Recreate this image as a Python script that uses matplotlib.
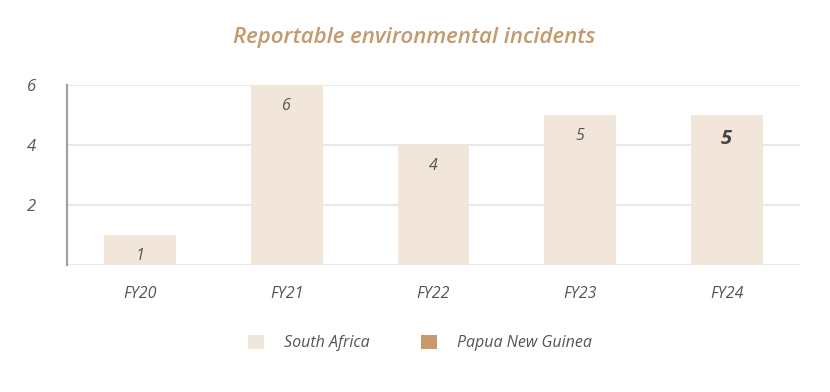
import matplotlib
matplotlib.use("Agg")
import matplotlib.pyplot as plt
from matplotlib.patches import Patch

categories = ["FY20", "FY21", "FY22", "FY23", "FY24"]
south_africa = [1, 6, 4, 5, 5]
yticks = [2, 4, 6]
series_names = ["South Africa", "Papua New Guinea"]

SA_COLOR = "#F2E6DA"
PNG_COLOR = "#C8996A"
TITLE_COLOR = "#C49A6C"
TEXT_COLOR = "#555555"
FONT = "Open Sans"

fig = plt.figure(figsize=(8.3, 3.92), dpi=100)
ax = fig.add_axes([67/830, 127/392, 733/830, 180/392])

x = list(range(len(categories)))
ax.bar(x, south_africa, width=0.49, color=SA_COLOR, zorder=2)

ax.set_xlim(-0.5, len(categories) - 0.5)
ax.set_ylim(0, 6)
ax.set_yticks(yticks)
ax.set_yticklabels([str(v) for v in yticks], fontfamily=FONT, fontstyle="italic",
                   fontsize=12, color=TEXT_COLOR)
ax.set_xticks(x)
ax.set_xticklabels(categories, fontfamily=FONT, fontstyle="italic",
                   fontsize=11.5, color=TEXT_COLOR)
ax.tick_params(axis="y", length=0, pad=22)
ax.tick_params(axis="x", length=0, pad=15)

for yv in [0] + yticks:
    ax.axhline(yv, color="#E8E8E8", lw=1.5, zorder=1)

for s in ["top", "right", "bottom"]:
    ax.spines[s].set_visible(False)
ax.spines["left"].set_color("#A0A0A0")
ax.spines["left"].set_linewidth(1.6)

for i, v in enumerate(south_africa):
    last = i == len(south_africa) - 1
    ax.annotate(str(v), (i, v), xytext=(0, -21 if not last else -24), textcoords="offset pixels",
                ha="center", va="center", fontfamily=FONT, fontstyle="italic",
                fontsize=14.5 if last else 11.5, fontweight="bold" if last else "normal",
                color="#444444" if last else TEXT_COLOR, zorder=3)

fig.text(414/830, 1 - 37/392, "Reportable environmental incidents", ha="center", va="center",
         fontfamily=FONT, fontstyle="italic", fontweight="semibold", fontsize=16, color=TITLE_COLOR)

handles = [Patch(facecolor=SA_COLOR, edgecolor="none"), Patch(facecolor=PNG_COLOR, edgecolor="none")]
leg = fig.legend(handles, series_names, loc="center", bbox_to_anchor=(420/830, 1 - 343/392),
                 ncol=2, frameon=False, handlelength=1.0, handleheight=1.0, handletextpad=1.25,
                 columnspacing=3.2, prop={"family": FONT, "style": "italic", "size": 11.5})
for t in leg.get_texts():
    t.set_color(TEXT_COLOR)

fig.savefig("out.png", dpi=100)
